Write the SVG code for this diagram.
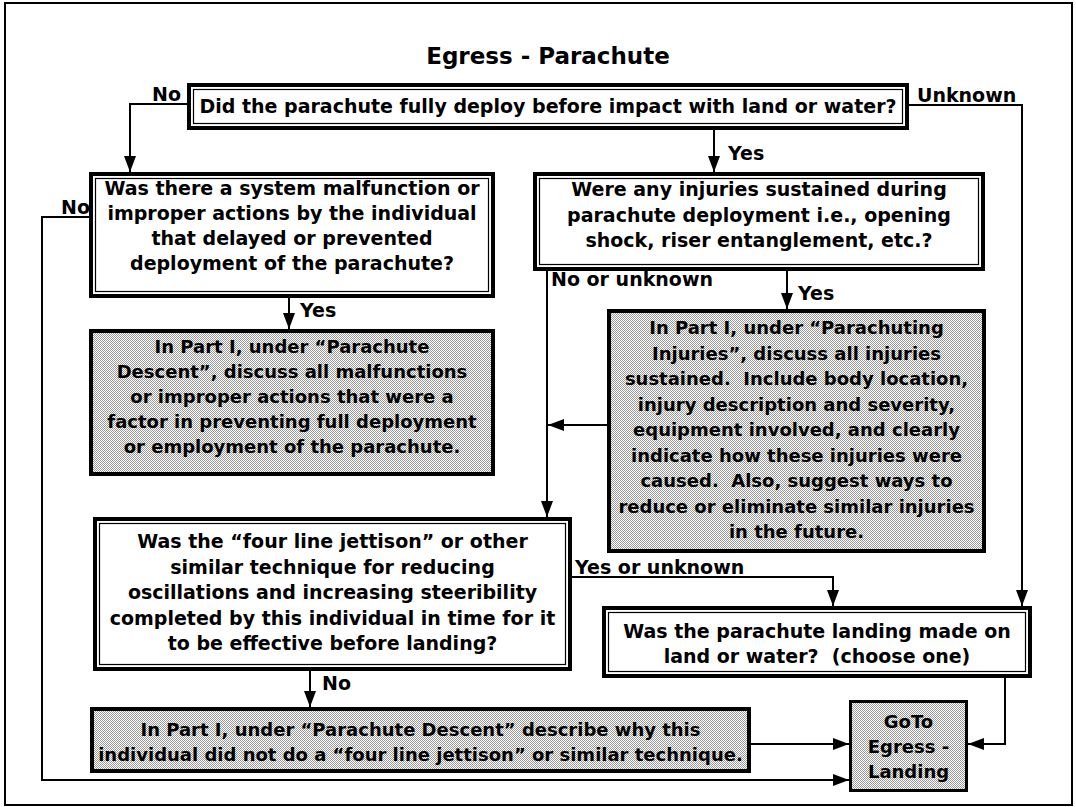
<svg xmlns="http://www.w3.org/2000/svg" width="1076" height="807" viewBox="0 0 1076 807">
<style>
text{font-family:"DejaVu Sans","Liberation Sans",sans-serif;font-weight:bold;fill:#000;white-space:pre}
.title{font-size:23px;text-anchor:middle}
.q{font-size:19px;text-anchor:middle}
.g{font-size:18px;text-anchor:middle}
.lbl{font-size:19px}
.outer{fill:#fff;stroke:#000;stroke-width:4}
.inner{fill:none;stroke:#000;stroke-width:1.2}
.gray{fill:url(#dots);stroke:#000;stroke-width:4}
.conn path{fill:none;stroke:#000;stroke-width:2}
.arr{marker-end:url(#ah)}
</style>
<defs>
<pattern id="dots" width="2" height="2" patternUnits="userSpaceOnUse">
<rect width="2" height="2" fill="#fff"/>
<rect width="1" height="1" fill="#9a9a9a"/>
<rect x="1" y="1" width="1" height="1" fill="#9a9a9a"/>
</pattern>
<marker id="ah" viewBox="0 0 16 12" markerWidth="16" markerHeight="12" refX="16" refY="6" orient="auto" markerUnits="userSpaceOnUse">
<path d="M0,0 L16,6 L0,12 z" fill="#000"/>
</marker>
</defs>
<rect x="5" y="3" width="1067" height="802" fill="#fff" stroke="#000" stroke-width="2"/>
<text class="title" x="548" y="64">Egress - Parachute</text>

<g id="q1">
<rect class="outer" x="189" y="85" width="718" height="43"/>
<rect class="inner" x="193.5" y="89.5" width="709" height="34"/>
<text class="q" x="548" y="113">Did the parachute fully deploy before impact with land or water?</text>
</g>

<g id="q2">
<rect class="outer" x="91" y="174" width="402" height="122"/>
<rect class="inner" x="95.5" y="178.5" width="393" height="113"/>
<text class="q" x="292" y="195">Was there a system malfunction or</text>
<text class="q" x="292" y="220">improper actions by the individual</text>
<text class="q" x="292" y="245">that delayed or prevented</text>
<text class="q" x="292" y="270">deployment of the parachute?</text>
</g>

<g id="g1">
<rect class="gray" x="91" y="331" width="402" height="143"/>
<text class="g" x="292" y="353">In Part I, under “Parachute</text>
<text class="g" x="292" y="378">Descent”, discuss all malfunctions</text>
<text class="g" x="292" y="403">or improper actions that were a</text>
<text class="g" x="292" y="428">factor in preventing full deployment</text>
<text class="g" x="292" y="453">or employment of the parachute.</text>
</g>

<g id="q3">
<rect class="outer" x="535" y="174" width="448" height="95"/>
<rect class="inner" x="539.5" y="178.5" width="439" height="86"/>
<text class="q" x="759" y="196">Were any injuries sustained during</text>
<text class="q" x="759" y="222">parachute deployment i.e., opening</text>
<text class="q" x="759" y="247">shock, riser entanglement, etc.?</text>
</g>

<g id="g2">
<rect class="gray" x="609" y="311" width="375" height="240"/>
<text class="g" x="796.5" y="334">In Part I, under “Parachuting</text>
<text class="g" x="796.5" y="359.5">Injuries”, discuss all injuries</text>
<text class="g" x="796.5" y="385">sustained.  Include body location,</text>
<text class="g" x="796.5" y="410.5">injury description and severity,</text>
<text class="g" x="796.5" y="436">equipment involved, and clearly</text>
<text class="g" x="796.5" y="461.5">indicate how these injuries were</text>
<text class="g" x="796.5" y="487">caused.  Also, suggest ways to</text>
<text class="g" x="796.5" y="512.5">reduce or eliminate similar injuries</text>
<text class="g" x="796.5" y="538">in the future.</text>
</g>

<g id="q4">
<rect class="outer" x="95" y="519" width="475" height="150"/>
<rect class="inner" x="99.5" y="523.5" width="466" height="141"/>
<text class="q" x="332.5" y="548">Was the “four line jettison” or other</text>
<text class="q" x="332.5" y="573.5">similar technique for reducing</text>
<text class="q" x="332.5" y="599">oscillations and increasing steeribility</text>
<text class="q" x="332.5" y="624.5">completed by this individual in time for it</text>
<text class="q" x="332.5" y="650">to be effective before landing?</text>
</g>

<g id="q5">
<rect class="outer" x="604" y="608" width="426" height="68"/>
<rect class="inner" x="608.5" y="612.5" width="417" height="59"/>
<text class="q" x="817" y="638">Was the parachute landing made on</text>
<text class="q" x="817" y="663">land or water?  (choose one)</text>
</g>

<g id="g3">
<rect class="gray" x="92" y="709" width="657" height="62"/>
<text class="g" x="420.5" y="736">In Part I, under “Parachute Descent” describe why this</text>
<text class="g" x="420.5" y="761">individual did not do a “four line jettison” or similar technique.</text>
</g>

<g id="goto">
<rect class="gray" x="850.5" y="701.5" width="116" height="89" style="stroke-width:3"/>
<text class="g" x="908.5" y="728">GoTo</text>
<text class="g" x="908.5" y="753">Egress -</text>
<text class="g" x="908.5" y="778">Landing</text>
</g>

<g id="connectors" class="conn">
<path class="arr" d="M187,104 H130 V172"/>
<path class="arr" d="M714,130 V172"/>
<path class="arr" d="M909,105 H1022 V606"/>
<path class="arr" d="M89,217 H42 V780 H849"/>
<path class="arr" d="M289,298 V329"/>
<path class="arr" d="M547,271 V517"/>
<path class="arr" d="M787,271 V309"/>
<path class="arr" d="M607,425 H548"/>
<path class="arr" d="M572,577 H833 V606"/>
<path class="arr" d="M310,671 V707"/>
<path class="arr" d="M751,744 H849"/>
<path class="arr" d="M1005,678 V744 H968"/>
</g>

<g id="labels">
<text class="lbl" x="152" y="101">No</text>
<text class="lbl" x="728" y="160">Yes</text>
<text class="lbl" x="917" y="102">Unknown</text>
<text class="lbl" x="61" y="214">No</text>
<text class="lbl" x="300" y="317">Yes</text>
<text class="lbl" x="551" y="286">No or unknown</text>
<text class="lbl" x="798" y="300">Yes</text>
<text class="lbl" x="575" y="574">Yes or unknown</text>
<text class="lbl" x="322" y="690">No</text>
</g>
</svg>
